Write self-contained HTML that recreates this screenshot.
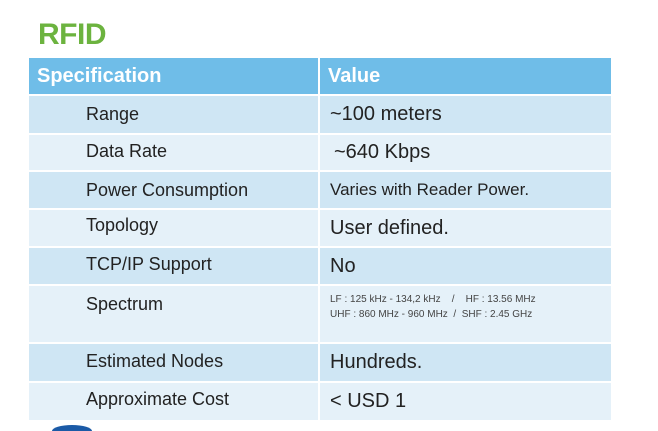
<!DOCTYPE html>
<html style="width:658px;height:431px;overflow:hidden"><head><meta charset="utf-8"><style>
body{margin:0;width:658px;height:431px;background:#fff;position:relative;overflow:hidden;font-family:"Liberation Sans",sans-serif;}
.t{position:absolute;left:38px;top:18px;font-size:30px;font-weight:bold;color:#6cb33f;letter-spacing:-0.5px}
.r{position:absolute;left:29px;width:582px;}
.c{position:absolute;top:0;bottom:0;display:flex;align-items:center;}
.a{left:0;width:289px;}
.b{left:291px;width:291px;}
.h .c{background:#6fbde8;color:#fff;font-weight:bold;font-size:20px;padding-left:8px;box-sizing:border-box}
.d .c{background:#cfe6f4}
.l .c{background:#e5f1f9}
.a.x{padding-left:57px;box-sizing:border-box;font-size:18px;color:#222}
.b.x{padding-left:10px;box-sizing:border-box;font-size:20px;color:#222}
</style></head><body>
<div class="t">RFID</div>
<div class="r h" style="top:58px;height:36px"><div class="c a">Specification</div><div class="c b">Value</div></div>
<div class="r d" style="top:96px;height:37px"><div class="c a x">Range</div><div class="c b x">~100 meters</div></div>
<div class="r l" style="top:135px;height:35px"><div class="c a x" style="align-items:flex-start;padding-top:6px">Data Rate</div><div class="c b x" style="padding-left:14px">~640 Kbps</div></div>
<div class="r d" style="top:172px;height:36px"><div class="c a x">Power Consumption</div><div class="c b x" style="font-size:17px">Varies with Reader Power.</div></div>
<div class="r l" style="top:210px;height:36px"><div class="c a x" style="align-items:flex-start;padding-top:5px">Topology</div><div class="c b x">User defined.</div></div>
<div class="r d" style="top:248px;height:36px"><div class="c a x" style="align-items:flex-start;padding-top:6px">TCP/IP Support</div><div class="c b x">No</div></div>
<div class="r l" style="top:286px;height:56px"><div class="c a x" style="align-items:flex-start;padding-top:8px">Spectrum</div><div class="c b x" style="align-items:flex-start;padding-top:6px;font-size:10px;line-height:15px;color:#444;white-space:pre">LF : 125 kHz - 134,2 kHz    /    HF : 13.56 MHz
UHF : 860 MHz - 960 MHz  /  SHF : 2.45 GHz</div></div>
<div class="r d" style="top:344px;height:37px"><div class="c a x" style="align-items:flex-start;padding-top:7px">Estimated Nodes</div><div class="c b x">Hundreds.</div></div>
<div class="r l" style="top:383px;height:37px"><div class="c a x" style="align-items:flex-start;padding-top:6px">Approximate Cost</div><div class="c b x">&lt; USD 1</div></div>
<div style="position:absolute;left:52px;top:425px;width:40px;height:6px;background:#1b5aa6;border-radius:20px 20px 0 0 / 6px 6px 0 0"></div>
</body></html>
